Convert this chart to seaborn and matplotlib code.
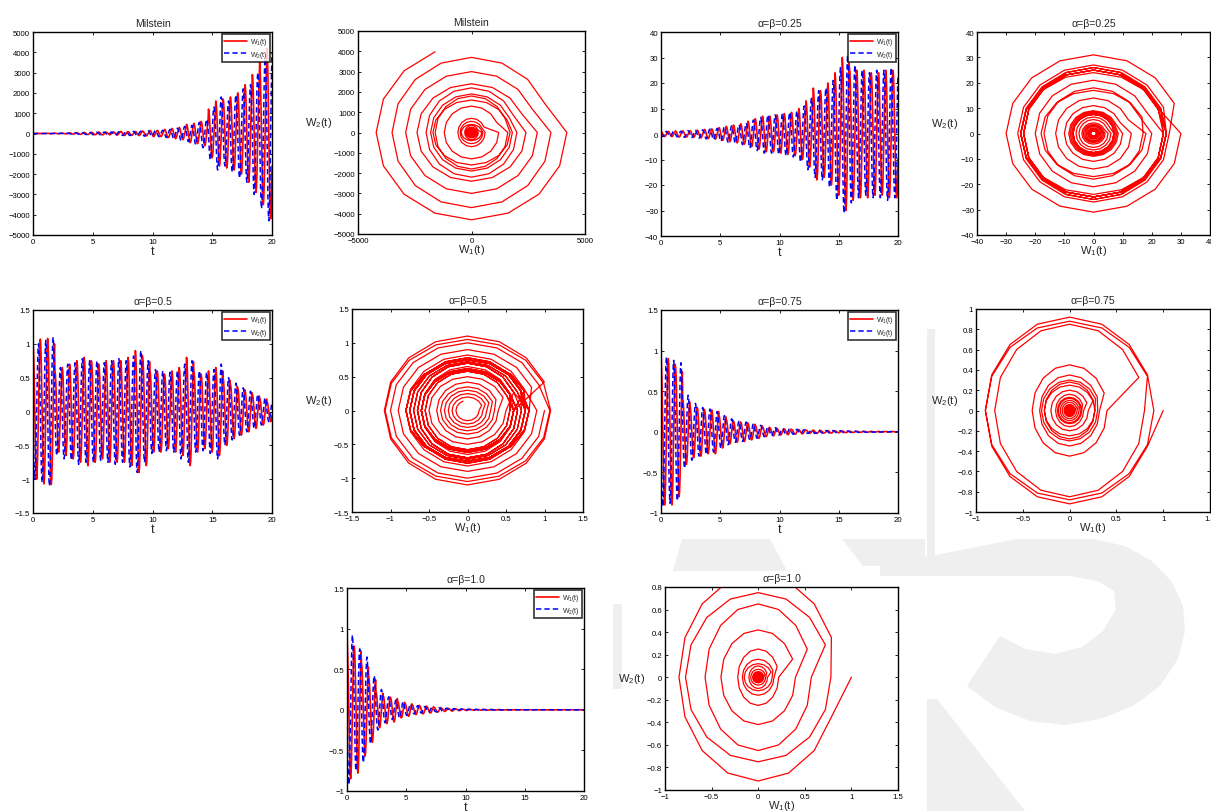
import numpy as np
import pandas as pd
import matplotlib
matplotlib.use("Agg")
import matplotlib.pyplot as plt
import seaborn as sns
from matplotlib.ticker import FuncFormatter, FixedLocator
from matplotlib.patches import Polygon

# ---------------- data ----------------
titles = ["Milstein", "α=β=0.25", "α=β=0.5", "α=β=0.75", "α=β=1.0"]
t_end = 20.0

# per-cycle amplitudes of W1 and W2 (one value per oscillation, ~0.6 time units each)
amp_w1_milstein = [1, 5, 10, 15, 20, 30, 40, 50, 60, 70, 60, 80, 100, 90, 100, 120, 150,
                   150, 200, 250, 300, 450, 500, 600, 1200, 1600, 1700, 1800, 2000, 2400,
                   2900, 3500, 4200]
amp_w2_milstein = [1, 5, 10, 15, 20, 30, 40, 50, 60, 70, 70, 80, 90, 100, 110, 130, 140,
                   160, 200, 260, 350, 400, 550, 700, 1300, 1800, 1600, 1900, 2200, 2400,
                   3000, 3700, 4300]
amp_w1_025 = [1, 1, 1.2, 1.2, 1.3, 1.5, 1.8, 2, 2.5, 3, 3.5, 4, 5, 6, 7, 7, 7.5, 8, 8.5,
              10, 13, 18, 17, 20, 24, 30, 26, 25, 25, 24, 24, 25, 25]
amp_w2_025 = [1, 1, 1.1, 1.3, 1.4, 1.6, 1.9, 2.2, 2.8, 3.2, 3.6, 4.2, 5.5, 6.5, 7.5, 7.5,
              8, 8.5, 9, 11, 14, 17, 18, 21, 26, 31, 27, 25, 24, 25, 25, 26, 25]
amp_w1_05 = [1.0, 1.07, 1.08, 0.6, 0.65, 0.7, 0.75, 0.8, 0.75, 0.7, 0.75, 0.75, 0.75,
             0.8, 0.9, 0.8, 0.6, 0.6, 0.55, 0.6, 0.65, 0.8, 0.6, 0.55, 0.6, 0.65, 0.5,
             0.4, 0.35, 0.3, 0.25, 0.2, 0.15]
amp_w2_05 = [1.0, 1.05, 1.1, 0.65, 0.7, 0.72, 0.78, 0.75, 0.75, 0.72, 0.75, 0.78, 0.75,
             0.82, 0.9, 0.75, 0.62, 0.6, 0.58, 0.6, 0.7, 0.75, 0.6, 0.58, 0.62, 0.7, 0.5,
             0.42, 0.35, 0.3, 0.25, 0.2, 0.15]
amp_w1_075 = [0.9, 0.9, 0.8, 0.4, 0.32, 0.3, 0.27, 0.27, 0.2, 0.15, 0.13, 0.12, 0.1, 0.08,
              0.06, 0.05, 0.04, 0.035, 0.03, 0.025, 0.02, 0.02, 0.015, 0.015, 0.012, 0.01,
              0.008, 0.007, 0.006, 0.005, 0.004, 0.003, 0.003]
amp_w2_075 = [0.92, 0.88, 0.85, 0.45, 0.35, 0.3, 0.28, 0.25, 0.2, 0.16, 0.13, 0.12, 0.1,
              0.08, 0.06, 0.05, 0.04, 0.035, 0.03, 0.025, 0.02, 0.02, 0.015, 0.015, 0.012,
              0.01, 0.008, 0.007, 0.006, 0.005, 0.004, 0.003, 0.003]
amp_w1_10 = [0.85, 0.78, 0.57, 0.4, 0.22, 0.17, 0.15, 0.1, 0.08, 0.06, 0.05, 0.04, 0.03,
             0.02, 0.015, 0.01, 0.008, 0.006, 0.005, 0.004, 0.003, 0.002, 0.002, 0.001,
             0.001, 0.001, 0.001, 0.001, 0.001, 0.001, 0.001, 0.001, 0.001]
amp_w2_10 = [0.92, 0.75, 0.65, 0.42, 0.25, 0.16, 0.12, 0.1, 0.07, 0.05, 0.04, 0.03, 0.025,
             0.02, 0.015, 0.01, 0.008, 0.006, 0.005, 0.004, 0.003, 0.002, 0.002, 0.001,
             0.001, 0.001, 0.001, 0.001, 0.001, 0.001, 0.001, 0.001, 0.001]
start_w1 = [1, 1, 1, 1, 1]   # every run starts at W1(0)=1, W2(0)=0

# shape of one oscillation cycle (16 samples): W1 ~ cos, W2 ~ -sin (clockwise orbit)
cycle_w1 = [1.0, 0.924, 0.707, 0.383, 0.0, -0.383, -0.707, -0.924,
            -1.0, -0.924, -0.707, -0.383, 0.0, 0.383, 0.707, 0.924]
cycle_w2 = [0.0, -0.383, -0.707, -0.924, -1.0, -0.924, -0.707, -0.383,
            0.0, 0.383, 0.707, 0.924, 1.0, 0.924, 0.707, 0.383]
samples_in_last_cycle = 12   # the record stops part-way through the final turn

amps = [(amp_w1_milstein, amp_w2_milstein), (amp_w1_025, amp_w2_025),
        (amp_w1_05, amp_w2_05), (amp_w1_075, amp_w2_075), (amp_w1_10, amp_w2_10)]

time_ylims = [(-5000, 5000), (-40, 40), (-1.5, 1.5), (-1, 1.5), (-1, 1.5)]
time_yticks = [list(range(-5000, 5001, 1000)), list(range(-40, 41, 10)),
               [-1.5, -1, -0.5, 0, 0.5, 1, 1.5], [-1, -0.5, 0, 0.5, 1, 1.5],
               [-1, -0.5, 0, 0.5, 1, 1.5]]
phase_xlims = [(-5000, 5000), (-40, 40), (-1.5, 1.5), (-1, 1.5), (-1, 1.5)]
phase_xticks = [[-5000, 0, 5000], list(range(-40, 41, 10)),
                [-1.5, -1, -0.5, 0, 0.5, 1, 1.5], [-1, -0.5, 0, 0.5, 1, 1.5],
                [-1, -0.5, 0, 0.5, 1, 1.5]]
phase_ylims = [(-5000, 5000), (-40, 40), (-1.5, 1.5), (-1, 1), (-1, 0.8)]
phase_yticks = [list(range(-5000, 5001, 1000)), list(range(-40, 41, 10)),
                [-1.5, -1, -0.5, 0, 0.5, 1, 1.5],
                [-1, -0.8, -0.6, -0.4, -0.2, 0, 0.2, 0.4, 0.6, 0.8, 1],
                [-1, -0.8, -0.6, -0.4, -0.2, 0, 0.2, 0.4, 0.6, 0.8]]
time_xticks = [0, 5, 10, 15, 20]

# ---------------- style ----------------
sns.set_style("ticks")
plt.rcParams["font.family"] = ["Liberation Sans", "DejaVu Sans"]
plt.rcParams["mathtext.default"] = "regular"
plt.rcParams["axes.unicode_minus"] = True

W, H = 1211, 812
fig = plt.figure(figsize=(W / 100, H / 100), dpi=100)
fig.patch.set_facecolor("white")

# faint background watermark (visible only in the gaps between the sub-figures)
wm_color = "#efefef"
watermark_shapes = [
    [(927, 330), (935, 330), (935, 577), (927, 577)],
    [(880, 567), (1017, 540), (1093, 540), (1125, 547), (1152, 562), (1172, 583),
     (1183, 607), (1185, 632), (1178, 660), (1160, 687), (1133, 707), (1100, 720),
     (1065, 726), (1030, 722), (995, 708), (967, 687),
     (1000, 637), (1025, 650), (1055, 655), (1082, 648), (1103, 632), (1116, 610),
     (1114, 592), (1098, 582), (1070, 577), (1030, 577), (880, 577)],
    [(927, 700), (937, 700), (1025, 812), (927, 812)],
    [(682, 540), (770, 540), (787, 572), (673, 572)],
    [(842, 540), (925, 540), (925, 567), (863, 567)],
    [(613, 605), (622, 605), (622, 690), (613, 690)],
]
for shp in watermark_shapes:
    fig.patches.append(Polygon([(x / W, 1 - y / H) for x, y in shp], closed=True,
                               transform=fig.transFigure, facecolor=wm_color,
                               edgecolor="none", zorder=-5))

def px_axes(l, t, r, b):
    return fig.add_axes([l / W, 1 - b / H, (r - l) / W, (b - t) / H])

time_boxes = [(33, 33, 272, 236), (661, 33, 898, 237), (33, 311, 272, 514),
              (661, 311, 898, 514), (347, 589, 584, 792)]
phase_boxes = [(358, 32, 585, 235), (977, 33, 1210, 236), (352, 310, 583, 513),
               (976, 310, 1210, 513), (665, 588, 898, 791)]
ylabel_x = [-0.115, -0.08, -0.087, -0.077, -0.086]

fmt = FuncFormatter(lambda v, p: ("%g" % v).replace("-", "\u2212"))

def style_axes(ax, xlim, xticks, ylim, yticks):
    ax.set_xlim(*xlim)
    ax.set_ylim(*ylim)
    ax.xaxis.set_major_locator(FixedLocator(xticks))
    ax.yaxis.set_major_locator(FixedLocator(yticks))
    ax.xaxis.set_major_formatter(fmt)
    ax.yaxis.set_major_formatter(fmt)
    ax.tick_params(direction="in", length=2.5, width=0.6, labelsize=5.6,
                   top=True, right=True, pad=2, colors="black")
    for s in ax.spines.values():
        s.set_visible(True)
        s.set_linewidth(1.0)
        s.set_color("black")
    ax.set_facecolor("white")

n_cyc = len(cycle_w1)
for i, title in enumerate(titles):
    a1, a2 = amps[i]
    w1 = np.outer(np.array(a1), np.array(cycle_w1)).ravel()
    w2 = np.outer(np.array(a2), np.array(cycle_w2)).ravel()
    w1[0] = start_w1[i]
    keep = len(w1) - (n_cyc - samples_in_last_cycle)
    w1, w2 = w1[:keep], w2[:keep]
    t = np.linspace(0, t_end, len(w1))
    df = pd.DataFrame({"t": t, "W1": w1, "W2": w2})

    # time series panel
    ax = px_axes(*time_boxes[i])
    sns.lineplot(data=df, x="t", y="W1", ax=ax, color="#ff0000", lw=1.2,
                 label="W$_1$(t)", sort=False, estimator=None)
    sns.lineplot(data=df, x="t", y="W2", ax=ax, color="#0000ff", lw=1.1,
                 linestyle=(0, (3.5, 2)), label="W$_2$(t)", sort=False, estimator=None)
    style_axes(ax, (0, 20), time_xticks, time_ylims[i], time_yticks[i])
    ax.set_title(title, fontsize=7.6, pad=4)
    ax.set_xlabel("t", fontsize=9, labelpad=0)
    ax.set_ylabel("")
    leg = ax.legend(loc="upper right", fontsize=5, frameon=True, fancybox=False,
                    borderaxespad=0.3, borderpad=0.3, labelspacing=0.2,
                    handlelength=3.3, handletextpad=0.4)
    leg.get_frame().set_edgecolor("black")
    leg.get_frame().set_linewidth(1.2)

    # phase portrait panel
    ax2 = px_axes(*phase_boxes[i])
    sns.lineplot(data=df, x="W1", y="W2", ax=ax2, color="#ff0000", lw=0.9,
                 sort=False, estimator=None)
    style_axes(ax2, phase_xlims[i], phase_xticks[i], phase_ylims[i], phase_yticks[i])
    ax2.set_title(title, fontsize=7.6, pad=4)
    ax2.set_xlabel("W$_1$(t)", fontsize=8, labelpad=-1)
    ax2.set_ylabel("W$_2$(t)", fontsize=8, rotation=0, ha="right", va="center")
    ax2.yaxis.set_label_coords(ylabel_x[i], 0.55)

fig.savefig("out.png", dpi=100, facecolor="white")
